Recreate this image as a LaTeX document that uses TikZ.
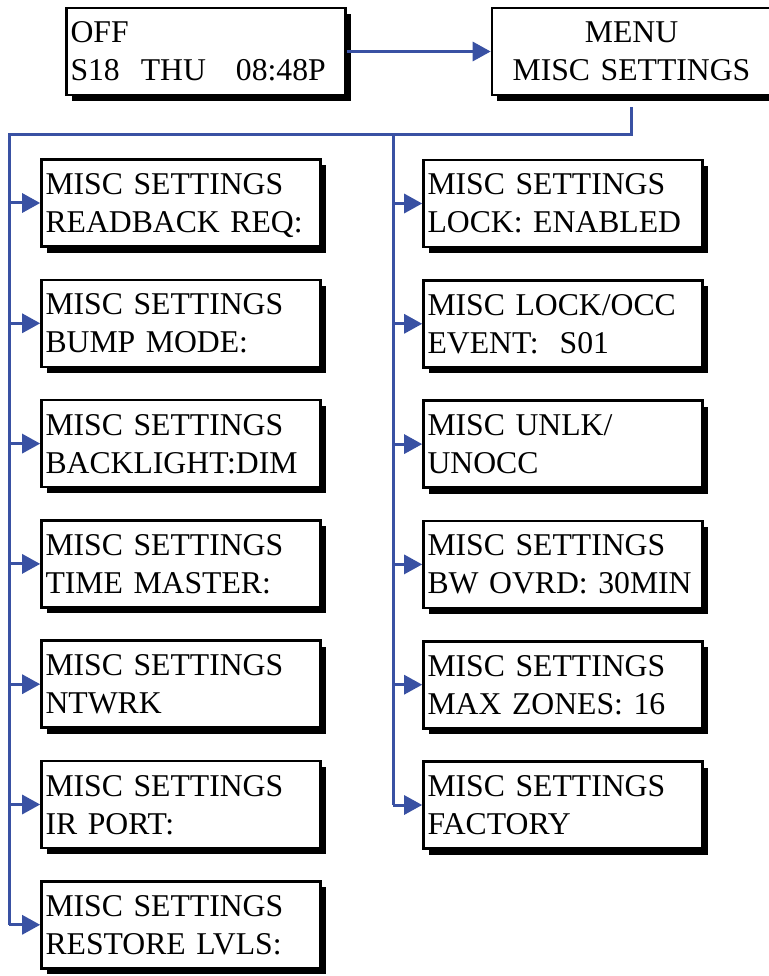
\documentclass[tikz,border=0pt]{standalone}
\usepackage{fontspec}
\setmainfont{Liberation Serif}
\usepackage{xcolor}
\usetikzlibrary{chains,positioning,shadows,arrows.meta}

\definecolor{busblue}{RGB}{57,81,163}

\begin{document}
\begin{tikzpicture}[x=1pt, y=1pt,
        lcd/.style={rectangle, draw, line width=2.6pt, fill=white,
            minimum width=279pt, minimum height=87pt, inner sep=0pt,
            text width=271pt, align=left, text height=21pt, text depth=38pt,
            font=\fontsize{31.7}{38}\selectfont,
            drop shadow={shadow xshift=5pt, shadow yshift=-6pt, fill=black, opacity=1}},
        bus/.style={draw=busblue, line width=3pt},
        link/.style={bus, -{Triangle[length=18pt, width=19pt]}},
        node distance=30.7pt]

        \useasboundingbox (0,0) rectangle (768,-976);

        \node[lcd] (clock) at (206,-51.5) {OFF\\S18\hspace{21pt}THU\hspace{30pt}08:48P};
        \node[lcd, align=center] (menu) at (631.5,-51.5) {MENU\\MISC SETTINGS};

        \begin{scope}[start chain=lcol going below]
        \node[lcd, on chain] (l1) at (181,-203) {MISC SETTINGS\\READBACK REQ:};
        \node[lcd, on chain] (l2) {MISC SETTINGS\\BUMP MODE:};
        \node[lcd, on chain] (l3) {MISC SETTINGS\\BACKLIGHT:DIM};
        \node[lcd, on chain] (l4) {MISC SETTINGS\\TIME MASTER:};
        \node[lcd, on chain] (l5) {MISC SETTINGS\\NTWRK};
        \node[lcd, on chain] (l6) {MISC SETTINGS\\IR PORT:};
        \node[lcd, on chain] (l7) {MISC SETTINGS\\RESTORE LVLS:};
        \end{scope}

        \begin{scope}[start chain=rcol going below]
        \node[lcd, on chain] (r1) at (563,-203.5) {MISC SETTINGS\\LOCK: ENABLED};
        \node[lcd, on chain] (r2) {MISC LOCK/OCC\\EVENT:\ \ S01};
        \node[lcd, on chain] (r3) {MISC UNLK/\\UNOCC};
        \node[lcd, on chain] (r4) {MISC SETTINGS\\BW OVRD: 30MIN};
        \node[lcd, on chain] (r5) {MISC SETTINGS\\MAX ZONES: 16};
        \node[lcd, on chain] (r6) {MISC SETTINGS\\FACTORY};
        \end{scope}

        \coordinate (busL) at (9,-135);
        \coordinate (busM) at (393,-135);

        \draw[link] (clock) -- (menu);
        \draw[bus] ([yshift=-11pt]menu.south) |- (busL) -- (busL |- l7.west);
        \draw[bus] (busM) -- (busM |- r6.west);
        \foreach \i in {1,...,7}
            \draw[link] (busL |- l\i.west) -- (l\i.west);
        \foreach \i in {1,...,6}
            \draw[link] (busM |- r\i.west) -- (r\i.west);
    \end{tikzpicture}
\end{document}
